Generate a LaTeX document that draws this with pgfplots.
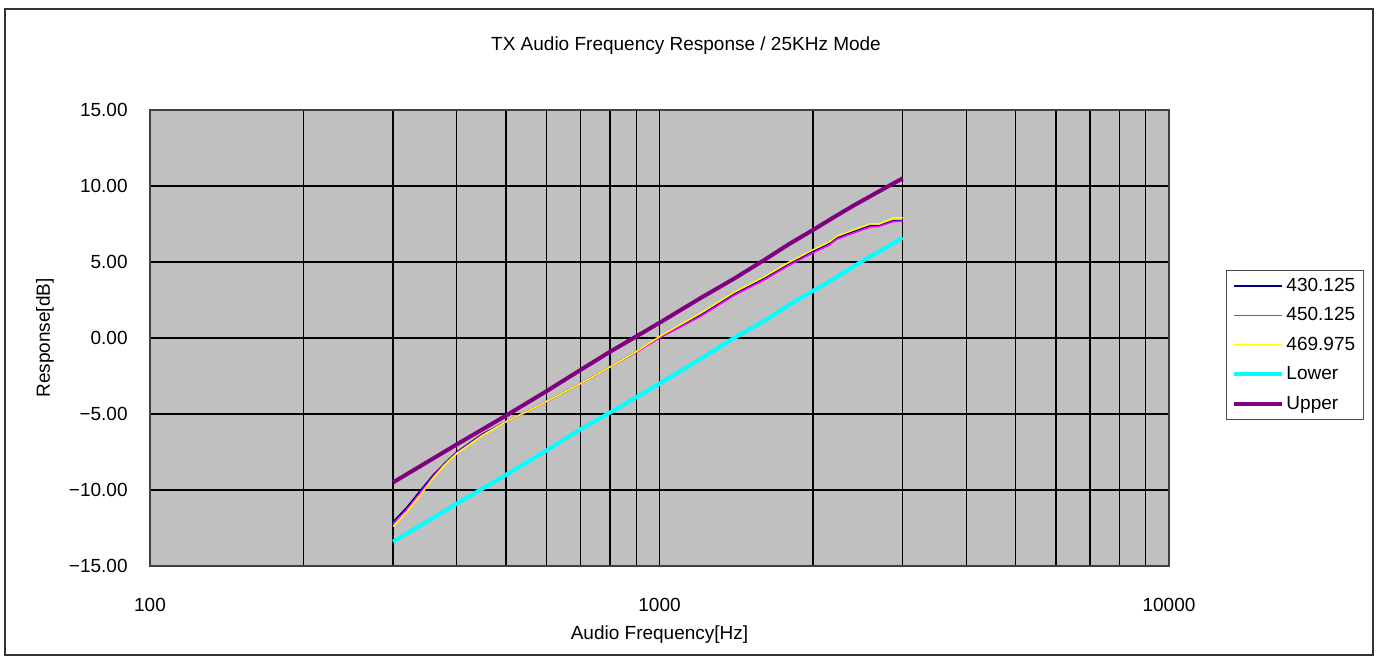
\documentclass[border=0pt]{standalone}
\usepackage{pgfplots}
\pgfplotsset{compat=1.18}
\usepackage{fontspec}
\setmainfont{Liberation Sans}

\definecolor{plotbg}{HTML}{C0C0C0}
\definecolor{c430}{HTML}{000080}
\definecolor{c450}{HTML}{FF00FF}
\definecolor{c469}{HTML}{FFFF00}
\definecolor{clow}{HTML}{00FFFF}
\definecolor{cup}{HTML}{800080}

\begin{document}
\begin{tikzpicture}
\begin{axis}[
name=ax,
scale only axis,
width=509.5pt, height=228pt,
xmode=log,
xmin=100, xmax=10000,
ymin=-15, ymax=15,
xtick={100,1000,10000},
xticklabels={100,1000,10000},
ytick={-15,-10,-5,0,5,10,15},
yticklabels={−15.00,−10.00,−5.00,0.00,5.00,10.00,15.00},
major tick length=0pt, minor tick length=0pt,
xmajorgrids, xminorgrids, ymajorgrids,
major grid style={black, line width=0.7pt},
minor grid style={black, line width=0.7pt},
axis line style={draw=black!75, line width=0.9pt},
axis background/.style={fill=plotbg},
tick label style={font=\fontsize{9.5}{11}\selectfont},
yticklabel style={anchor=east, inner sep=0pt, xshift=-11pt},
xticklabel style={anchor=center, inner sep=0pt, yshift=-19.5pt},
title={TX Audio Frequency Response / 25KHz Mode},
title style={at={(axis description cs:0.526,1.114)}, anchor=center, inner sep=0pt, font=\fontsize{9.5}{11}\selectfont},
xlabel={Audio Frequency[Hz]},
xlabel style={at={(axis description cs:0.5,-0.15)}, anchor=center, inner sep=0pt, font=\fontsize{9.5}{11}\selectfont},
ylabel={Response[dB]},
ylabel style={at={(axis description cs:-0.103,0.5)}, anchor=center, inner sep=0pt, font=\fontsize{9.5}{11}\selectfont},
legend style={at={(axis description cs:1.056,0.649)}, anchor=north west,
  draw=black!70, fill=white, font=\fontsize{9.5}{11}\selectfont,
  inner xsep=3pt, inner ysep=2.5pt, row sep=4.2pt,
  nodes={inner sep=1pt, text height=7pt, text depth=1.5pt}},
legend cell align=left,
legend image code/.code={\draw[#1] (0pt,0pt) -- (24pt,0pt);},
]
\addplot[c430, line width=0.75pt] coordinates {
(300,-12.1) (320,-11.1) (340,-10.0) (360,-9.0) (380,-8.2) (400,-7.5)
(450,-6.3) (500,-5.5) (560,-4.7) (630,-3.8) (700,-3.0) (800,-1.9)
(900,-0.9) (1000,0.05) (1200,1.5) (1400,2.9) (1600,3.9) (1800,4.9)
(2000,5.7) (2150,6.2) (2230,6.6) (2400,7.0) (2590,7.4) (2700,7.4)
(2870,7.7) (3000,7.7)};
\addplot[c450, line width=0.75pt] coordinates {
(300,-12.25) (320,-11.25) (340,-10.15) (360,-9.1) (380,-8.25) (400,-7.55)
(450,-6.35) (500,-5.5) (560,-4.7) (630,-3.8) (700,-3.0) (800,-1.9)
(900,-0.95) (1000,0.0) (1200,1.4) (1400,2.8) (1600,3.8) (1800,4.8)
(2000,5.6) (2150,6.1) (2230,6.5) (2400,6.9) (2590,7.3) (2700,7.35)
(2870,7.65) (3000,7.7)};
\addplot[c469, line width=0.75pt] coordinates {
(300,-12.4) (320,-11.4) (340,-10.3) (360,-9.2) (380,-8.3) (400,-7.6)
(450,-6.4) (500,-5.5) (560,-4.7) (630,-3.8) (700,-3.0) (800,-1.9)
(900,-0.9) (1000,0.1) (1200,1.6) (1400,3.0) (1600,4.0) (1800,5.0)
(2000,5.8) (2150,6.3) (2230,6.7) (2400,7.1) (2590,7.5) (2700,7.5)
(2870,7.9) (3000,7.9)};
\addplot[clow, line width=2pt] coordinates {
(300,-13.4) (400,-10.9) (500,-9.0) (600,-7.4) (700,-6.0) (800,-4.9)
(900,-3.9) (1000,-3.0) (1200,-1.4) (1400,0.0) (1600,1.1) (1800,2.2)
(2000,3.1) (2200,3.9) (2400,4.7) (2600,5.4) (2800,6.0) (3000,6.6)};
\addplot[cup, line width=2pt] coordinates {
(300,-9.5) (400,-7.0) (500,-5.1) (600,-3.5) (700,-2.1) (800,-0.9)
(900,0.1) (1000,1.0) (1200,2.6) (1400,3.9) (1600,5.1) (1800,6.2)
(2000,7.1) (2200,7.95) (2400,8.7) (2600,9.35) (2800,9.95) (3000,10.5)};
\legend{430.125,450.125,469.975,Lower,Upper}
\end{axis}
\draw[black!80, line width=0.8pt] ([xshift=-72.5pt,yshift=-44.5pt]ax.south west) rectangle ([xshift=102pt,yshift=50.5pt]ax.north east);
\pgfresetboundingbox
\path ([xshift=-75pt,yshift=-48pt]ax.south west) rectangle ([xshift=105.5pt,yshift=55pt]ax.north east);
\end{tikzpicture}
\end{document}
